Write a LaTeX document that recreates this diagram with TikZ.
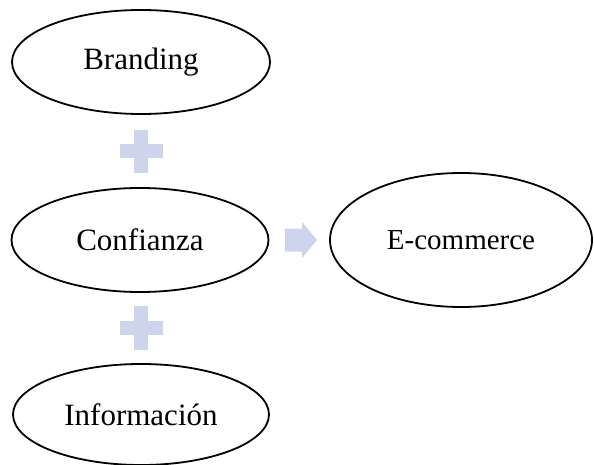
\documentclass[tikz,border=0pt]{standalone}
\usepackage{fontspec}
\setmainfont{Liberation Serif}
\usetikzlibrary{shapes.geometric}
\definecolor{plusfill}{RGB}{206,212,235}
\tikzset{
  oval/.style={ellipse, draw=black, line width=1.8pt, inner sep=0pt, font=\fontsize{31}{36}\selectfont},
  plusmark/.style={fill=plusfill, draw=none},
}
\begin{document}
\begin{tikzpicture}[x=1pt,y=-1pt]
\useasboundingbox (0,0) rectangle (594,465);
\node[oval, minimum width=258pt, minimum height=104pt] (brand) at (141,62) {Branding};
\node[oval, minimum width=257pt, minimum height=104pt] (conf) at (140,240) {Confianza};
\node[oval, minimum width=256pt, minimum height=101pt] (info) at (141,414.5) {Información};
\node[oval, minimum width=262pt, minimum height=134pt, font=\fontsize{29}{34}\selectfont] (ecom) at (461,240) {E-commerce};
% plus signs
\fill[plusmark] (134,130) rectangle (148,173);
\fill[plusmark] (120,144) rectangle (163,158);
\fill[plusmark] (134,306) rectangle (148,350);
\fill[plusmark] (120,321) rectangle (163,335);
% arrow
\fill[plusmark] (285,228.5) -- (302,228.5) -- (302,222) -- (317,240) -- (302,258) -- (302,251.5) -- (285,251.5) -- cycle;
\end{tikzpicture}
\end{document}
